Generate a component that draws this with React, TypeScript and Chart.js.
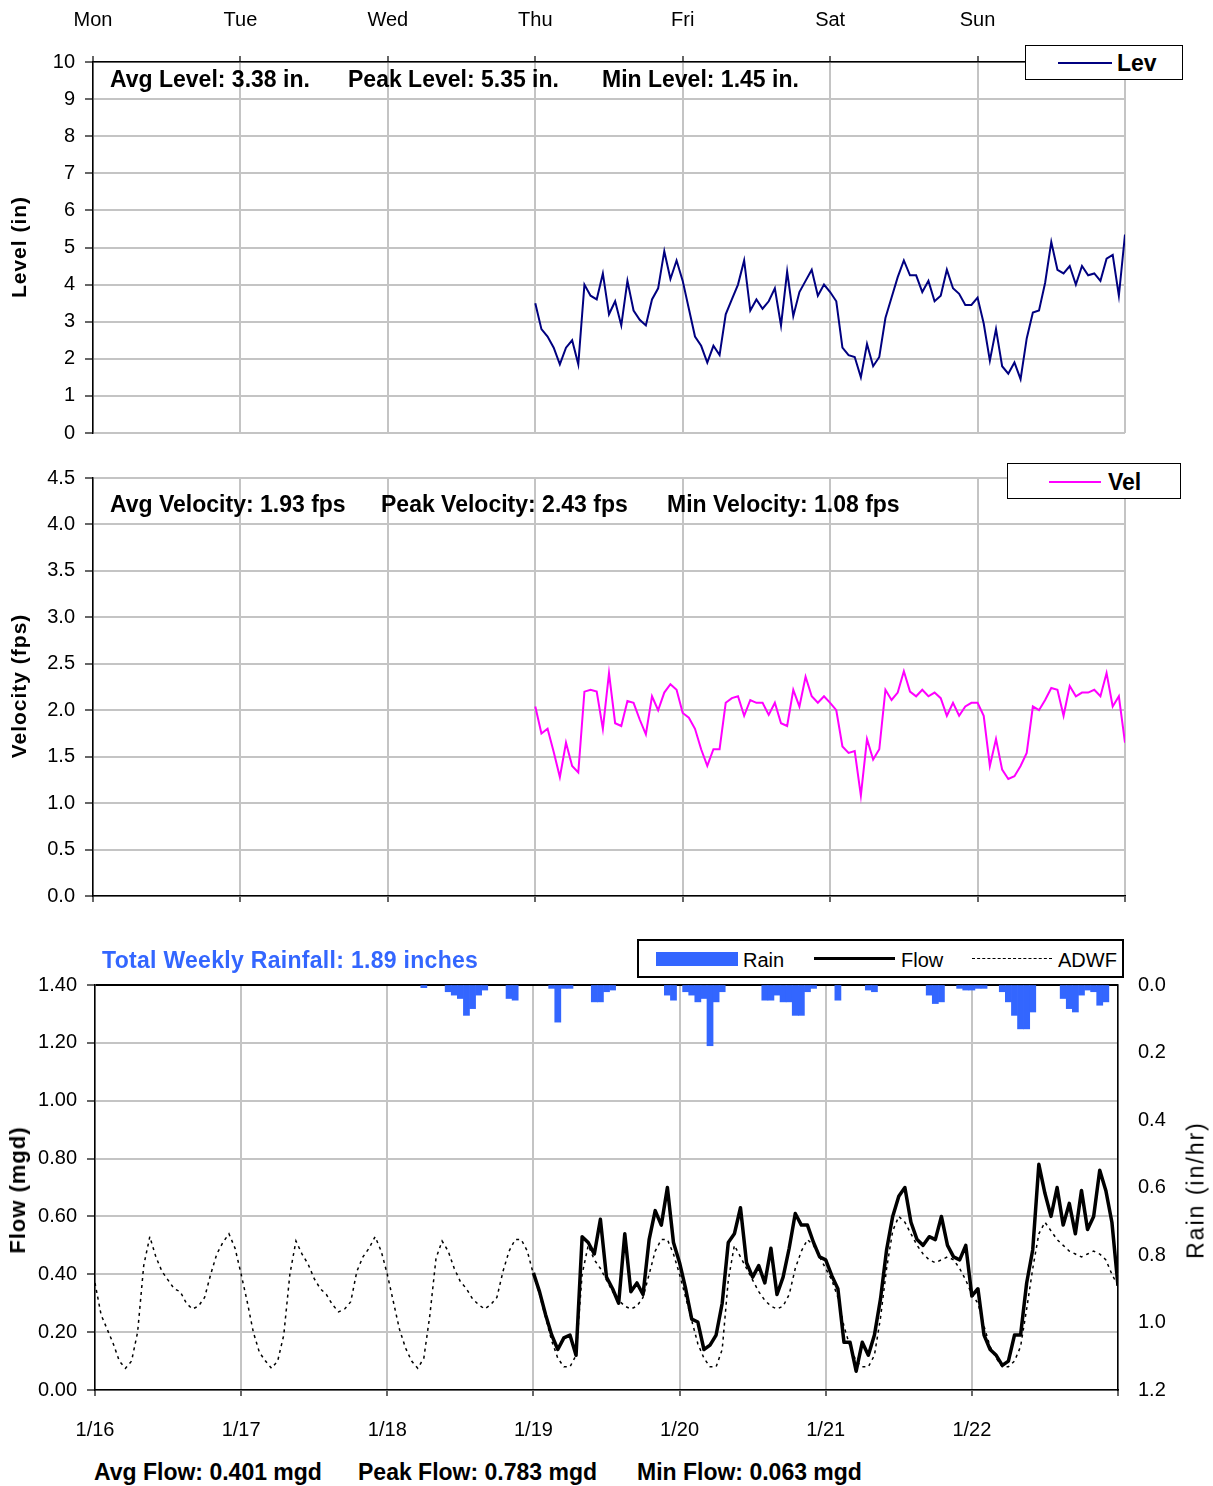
import React, { useEffect, useRef } from 'react';
import { Chart, registerables } from 'chart.js';
Chart.register(...registerables);

// ---------------- DATA ----------------
const DAY_NAMES = ['Mon', 'Tue', 'Wed', 'Thu', 'Fri', 'Sat', 'Sun'];
const DATE_LABELS = ['1/16', '1/17', '1/18', '1/19', '1/20', '1/21', '1/22'];
const WEEK_HOURS = 168;
const METER_START_HOUR = 72; // Thu 1/19 00:00

// Level (in), hourly
const levelThu = [3.5, 2.8, 2.6, 2.3, 1.85, 2.3, 2.5, 1.85, 4.0, 3.7, 3.6, 4.3, 3.2, 3.55, 2.9, 4.1, 3.3, 3.05, 2.9, 3.6, 3.9, 4.9, 4.15, 4.65];
const levelFri = [4.1, 3.35, 2.6, 2.35, 1.9, 2.35, 2.1, 3.2, 3.6, 4.0, 4.65, 3.3, 3.6, 3.35, 3.55, 3.9, 2.9, 4.35, 3.15, 3.8, 4.1, 4.4, 3.7, 4.0];
const levelSat = [3.8, 3.55, 2.3, 2.1, 2.05, 1.5, 2.4, 1.8, 2.05, 3.1, 3.65, 4.2, 4.65, 4.25, 4.25, 3.8, 4.1, 3.55, 3.7, 4.4, 3.9, 3.75, 3.45, 3.45];
const levelSun = [3.65, 2.95, 1.95, 2.8, 1.8, 1.6, 1.9, 1.45, 2.55, 3.25, 3.3, 4.05, 5.15, 4.4, 4.3, 4.5, 4.0, 4.5, 4.25, 4.3, 4.1, 4.7, 4.8, 3.7];
const levelEnd = 5.35;

// Velocity (fps), hourly
const velThu = [2.04, 1.75, 1.8, 1.55, 1.28, 1.65, 1.4, 1.33, 2.2, 2.22, 2.2, 1.8, 2.4, 1.86, 1.83, 2.1, 2.08, 1.9, 1.74, 2.15, 2.0, 2.19, 2.28, 2.22];
const velFri = [1.97, 1.92, 1.8, 1.58, 1.4, 1.58, 1.58, 2.08, 2.13, 2.15, 1.94, 2.11, 2.08, 2.08, 1.95, 2.08, 1.86, 1.83, 2.22, 2.04, 2.36, 2.15, 2.08, 2.15];
const velSat = [2.08, 2.0, 1.61, 1.54, 1.56, 1.08, 1.69, 1.47, 1.58, 2.22, 2.11, 2.19, 2.42, 2.2, 2.15, 2.22, 2.15, 2.19, 2.13, 1.94, 2.08, 1.94, 2.04, 2.08];
const velSun = [2.08, 1.94, 1.4, 1.69, 1.36, 1.26, 1.29, 1.4, 1.54, 2.04, 2.0, 2.11, 2.24, 2.22, 1.94, 2.26, 2.15, 2.19, 2.19, 2.22, 2.15, 2.4, 2.04, 2.15];
const velEnd = 1.65;

// Flow (mgd), hourly
const flow0119 = [0.405, 0.34, 0.26, 0.19, 0.14, 0.18, 0.19, 0.12, 0.53, 0.51, 0.47, 0.59, 0.39, 0.35, 0.30, 0.54, 0.34, 0.37, 0.33, 0.52, 0.62, 0.57, 0.70, 0.51];
const flow0120 = [0.44, 0.35, 0.245, 0.235, 0.14, 0.155, 0.19, 0.30, 0.51, 0.54, 0.63, 0.44, 0.39, 0.43, 0.37, 0.49, 0.33, 0.39, 0.49, 0.61, 0.57, 0.57, 0.51, 0.46];
const flow0121 = [0.45, 0.395, 0.35, 0.165, 0.165, 0.065, 0.165, 0.12, 0.19, 0.315, 0.485, 0.60, 0.67, 0.70, 0.58, 0.52, 0.50, 0.53, 0.52, 0.60, 0.50, 0.46, 0.45, 0.50];
const flow0122 = [0.325, 0.35, 0.19, 0.14, 0.12, 0.085, 0.10, 0.19, 0.19, 0.37, 0.485, 0.78, 0.68, 0.60, 0.70, 0.57, 0.645, 0.54, 0.69, 0.555, 0.60, 0.76, 0.69, 0.58];
const flowEnd = 0.36;

// ADWF (mgd), hourly for the whole week
const adwf0116 = [0.37, 0.26, 0.21, 0.16, 0.10, 0.075, 0.10, 0.20, 0.43, 0.53, 0.46, 0.41, 0.38, 0.35, 0.34, 0.30, 0.28, 0.29, 0.32, 0.40, 0.47, 0.51, 0.54, 0.49];
const adwf0117 = [0.40, 0.305, 0.20, 0.13, 0.10, 0.075, 0.10, 0.19, 0.40, 0.515, 0.47, 0.435, 0.385, 0.35, 0.33, 0.295, 0.27, 0.28, 0.305, 0.41, 0.46, 0.49, 0.53, 0.48];
const adwf0118 = [0.40, 0.305, 0.21, 0.145, 0.10, 0.075, 0.11, 0.26, 0.455, 0.515, 0.48, 0.42, 0.375, 0.35, 0.315, 0.295, 0.28, 0.295, 0.32, 0.41, 0.48, 0.52, 0.52, 0.48];
const adwf0119 = [0.40, 0.33, 0.25, 0.17, 0.11, 0.08, 0.08, 0.12, 0.40, 0.50, 0.45, 0.42, 0.38, 0.34, 0.31, 0.29, 0.28, 0.29, 0.32, 0.40, 0.48, 0.52, 0.52, 0.47];
const adwf0120 = [0.40, 0.32, 0.24, 0.16, 0.11, 0.08, 0.08, 0.14, 0.38, 0.50, 0.46, 0.42, 0.38, 0.34, 0.31, 0.29, 0.28, 0.29, 0.33, 0.42, 0.48, 0.52, 0.50, 0.46];
const adwf0121 = [0.42, 0.38, 0.32, 0.22, 0.15, 0.10, 0.08, 0.08, 0.12, 0.25, 0.42, 0.55, 0.60, 0.58, 0.54, 0.50, 0.47, 0.45, 0.44, 0.45, 0.46, 0.45, 0.42, 0.38];
const adwf0122 = [0.33, 0.30, 0.22, 0.15, 0.11, 0.08, 0.08, 0.10, 0.15, 0.28, 0.42, 0.54, 0.58, 0.55, 0.52, 0.50, 0.48, 0.47, 0.46, 0.47, 0.48, 0.47, 0.45, 0.40];
const adwfEnd = 0.36;

// Rain (in/hr): hour of week and intensity
const rainHours = [54, 58, 59, 60, 61, 62, 63, 64, 68, 69, 75, 76, 77, 78, 82, 83, 84, 85, 94, 95, 97, 98, 99, 100, 101, 102, 103, 110, 111, 112, 113, 114, 115, 116, 117, 118, 122, 127, 128, 137, 138, 139, 142, 143, 144, 145, 146, 149, 150, 151, 152, 153, 154, 159, 160, 161, 162, 163, 164, 165, 166];
const rainValues = [0.008, 0.02, 0.03, 0.04, 0.09, 0.07, 0.03, 0.015, 0.04, 0.045, 0.01, 0.11, 0.01, 0.01, 0.05, 0.05, 0.02, 0.015, 0.03, 0.045, 0.02, 0.03, 0.05, 0.04, 0.18, 0.05, 0.02, 0.045, 0.045, 0.03, 0.05, 0.05, 0.09, 0.09, 0.02, 0.01, 0.045, 0.015, 0.02, 0.03, 0.055, 0.05, 0.01, 0.015, 0.015, 0.01, 0.01, 0.02, 0.05, 0.09, 0.13, 0.13, 0.08, 0.04, 0.07, 0.08, 0.03, 0.015, 0.02, 0.06, 0.05];

const levelStats = ['Avg Level: 3.38 in.', 'Peak Level: 5.35 in.', 'Min Level: 1.45 in.'];
const velStats = ['Avg Velocity: 1.93 fps', 'Peak Velocity: 2.43 fps', 'Min Velocity: 1.08 fps'];
const flowStats = ['Avg Flow: 0.401 mgd', 'Peak Flow: 0.783 mgd', 'Min Flow: 0.063 mgd'];
const rainTotalText = 'Total Weekly Rainfall: 1.89 inches';

// ---------------- HELPERS ----------------
const FONT = '"Liberation Sans", Arial, Helvetica, sans-serif';
const GRID = '#c4c4c4';
const RAIN_BLUE = '#3366ff';

function toPoints(startHour: number, days: number[][], endValue: number) {
  const pts: { x: number; y: number }[] = [];
  let h = startHour;
  days.forEach((d) => d.forEach((v) => { pts.push({ x: h, y: v }); h += 1; }));
  pts.push({ x: h, y: endValue });
  return pts;
}

const tickFont = { family: FONT, size: 20 };

function xDayAxis(position: string, labels: string[] | null, height: number, padding: number) {
  return {
    type: 'linear',
    position,
    min: 0,
    max: WEEK_HOURS,
    offset: false,
    ticks: {
      stepSize: 24,
      autoSkip: false,
      maxRotation: 0,
      color: '#000',
      font: tickFont,
      padding,
      callback: (v: number) => (labels ? labels[Math.round(v / 24)] ?? '' : ''),
    },
    grid: { color: GRID, lineWidth: 2, tickColor: '#000', tickLength: 6, tickWidth: 1.2, offset: false },
    border: { color: '#000', width: 1.5 },
    afterFit: (s: any) => { s.height = height; },
  };
}

function yAxis(max: number, step: number, digits: number, width: number, topBlack: boolean) {
  return {
    type: 'linear',
    position: 'left',
    min: 0,
    max,
    ticks: {
      stepSize: step,
      color: '#000',
      font: tickFont,
      padding: 10,
      callback: (v: number) => (digits === 0 ? String(Math.round(v)) : Number(v).toFixed(digits)),
    },
    grid: {
      color: (ctx: any) => (topBlack && ctx.tick && Math.abs(ctx.tick.value - max) < 1e-6 ? '#000' : GRID),
      lineWidth: 2,
      tickColor: '#000',
      tickLength: 8,
      tickWidth: 1.2,
    },
    border: { color: '#000', width: 1.5 },
    afterFit: (s: any) => { s.width = width; },
  };
}

const basePlugins = { legend: { display: false }, tooltip: { enabled: false } };

function useChart(ref: React.RefObject<HTMLCanvasElement>, makeConfig: () => any) {
  useEffect(() => {
    if (!ref.current) return;
    const chart = new Chart(ref.current, makeConfig());
    return () => chart.destroy();
  }, []);
}

const txt = (left: number, cy: number, text: string, extra: React.CSSProperties = {}) => (
  <div
    style={{
      position: 'absolute', left, top: cy, transform: 'translateY(-50%)', whiteSpace: 'nowrap',
      fontFamily: FONT, fontSize: 23, fontWeight: 'bold', lineHeight: 1, color: '#000', ...extra,
    }}
  >
    {text}
  </div>
);

const vtitle = (cx: number, cy: number, text: string, extra: React.CSSProperties = {}) => (
  <div
    style={{
      position: 'absolute', left: cx, top: cy, transform: 'translate(-50%, -50%) rotate(-90deg)',
      whiteSpace: 'nowrap', fontFamily: FONT, fontSize: 21, fontWeight: 'bold', letterSpacing: 1,
      lineHeight: 1, color: '#000', ...extra,
    }}
  >
    {text}
  </div>
);

// ---------------- APP ----------------
export default function App() {
  const levelRef = useRef<HTMLCanvasElement>(null);
  const velRef = useRef<HTMLCanvasElement>(null);
  const flowRef = useRef<HTMLCanvasElement>(null);

  useChart(levelRef, () => ({
    type: 'line',
    data: {
      datasets: [{
        data: toPoints(METER_START_HOUR, [levelThu, levelFri, levelSat, levelSun], levelEnd),
        borderColor: '#000080', borderWidth: 2, pointRadius: 0, tension: 0,
      }],
    },
    options: {
      animation: false, responsive: false, maintainAspectRatio: false,
      layout: { padding: { left: 0, right: 88, top: 0, bottom: 0 } },
      plugins: basePlugins,
      scales: {
        x: xDayAxis('top', DAY_NAMES, 62, 24),
        y: yAxis(10, 1, 0, 93, false),
      },
    },
  }));

  useChart(velRef, () => ({
    type: 'line',
    data: {
      datasets: [{
        data: toPoints(METER_START_HOUR, [velThu, velFri, velSat, velSun], velEnd),
        borderColor: '#ff00ff', borderWidth: 2, pointRadius: 0, tension: 0,
      }],
    },
    options: {
      animation: false, responsive: false, maintainAspectRatio: false,
      layout: { padding: { left: 0, right: 88, top: 33, bottom: 0 } },
      plugins: basePlugins,
      scales: {
        x: xDayAxis('bottom', null, 20, 2),
        y: yAxis(4.5, 0.5, 1, 93, false),
      },
    },
  }));

  useChart(flowRef, () => ({
    type: 'line',
    data: {
      datasets: [
        {
          type: 'line', label: 'Flow', yAxisID: 'y',
          data: toPoints(METER_START_HOUR, [flow0119, flow0120, flow0121, flow0122], flowEnd),
          borderColor: '#000', borderWidth: 3.5, pointRadius: 0, tension: 0, borderJoinStyle: 'round',
        },
        {
          type: 'line', label: 'ADWF', yAxisID: 'y',
          data: toPoints(0, [adwf0116, adwf0117, adwf0118, adwf0119, adwf0120, adwf0121, adwf0122], adwfEnd),
          borderColor: '#000', borderWidth: 1.5, borderDash: [3, 4], pointRadius: 0, tension: 0,
        },
        {
          type: 'bar', label: 'Rain', yAxisID: 'y2',
          data: rainHours.map((h, i) => ({ x: h, y: rainValues[i] })),
          backgroundColor: RAIN_BLUE, borderWidth: 0, barPercentage: 1, categoryPercentage: 1,
        },
      ],
    },
    options: {
      animation: false, responsive: false, maintainAspectRatio: false,
      layout: { padding: { left: 0, right: 0, top: 55, bottom: 0 } },
      plugins: basePlugins,
      scales: {
        x: xDayAxis('bottom', DATE_LABELS, 60, 22),
        y: yAxis(1.4, 0.2, 2, 95, true),
        y2: {
          type: 'linear', position: 'right', reverse: true, min: 0, max: 1.2,
          ticks: {
            stepSize: 0.2, color: '#000', font: tickFont, padding: 20,
            callback: (v: number) => Number(v).toFixed(1),
          },
          grid: { drawOnChartArea: false, drawTicks: false },
          border: { color: '#000', width: 1.5 },
          afterFit: (s: any) => { s.width = 95; },
        },
      },
    },
  }));

  const legendBox: React.CSSProperties = {
    position: 'absolute', background: '#fff', border: '1.5px solid #000', boxSizing: 'border-box',
  };

  return (
    <div style={{ position: 'absolute', left: 0, top: 0, width: 1213, height: 1486, background: '#fff', overflow: 'hidden' }}>
      <canvas ref={levelRef} width={1213} height={455} style={{ position: 'absolute', left: 0, top: 0 }} />
      <canvas ref={velRef} width={1213} height={473} style={{ position: 'absolute', left: 0, top: 445 }} />
      <canvas ref={flowRef} width={1213} height={520} style={{ position: 'absolute', left: 0, top: 930 }} />

      {/* Level annotations */}
      {txt(110, 79, levelStats[0])}
      {txt(348, 79, levelStats[1])}
      {txt(602, 79, levelStats[2])}
      <div style={{ ...legendBox, left: 1025, top: 45, width: 158, height: 35 }}>
        <div style={{ position: 'absolute', left: 32, top: 16, width: 54, height: 2, background: '#000080' }} />
        {txt(91, 17, 'Lev', { fontSize: 23 })}
      </div>
      {vtitle(18, 247, 'Level (in)')}

      {/* Velocity annotations */}
      {txt(110, 504, velStats[0])}
      {txt(381, 504, velStats[1])}
      {txt(667, 504, velStats[2])}
      <div style={{ ...legendBox, left: 1007, top: 463, width: 174, height: 36 }}>
        <div style={{ position: 'absolute', left: 41, top: 17, width: 52, height: 2, background: '#ff00ff' }} />
        {txt(100, 18, 'Vel', { fontSize: 23 })}
      </div>
      {vtitle(18, 686, 'Velocity (fps)')}

      {/* Flow annotations */}
      {txt(102, 960, rainTotalText, { color: RAIN_BLUE, fontSize: 23, letterSpacing: 0.3 })}
      <div style={{ ...legendBox, left: 637, top: 939, width: 487, height: 39, borderWidth: 2 }}>
        <div style={{ position: 'absolute', left: 17, top: 11, width: 82, height: 14, background: RAIN_BLUE }} />
        {txt(104, 19, 'Rain', { fontWeight: 'normal', fontSize: 20 })}
        <div style={{ position: 'absolute', left: 175, top: 16, width: 81, height: 3, background: '#000' }} />
        {txt(262, 19, 'Flow', { fontWeight: 'normal', fontSize: 20 })}
        <div style={{ position: 'absolute', left: 333, top: 17, width: 80, height: 0, borderTop: '1.5px dashed #000' }} />
        {txt(419, 19, 'ADWF', { fontWeight: 'normal', fontSize: 20 })}
      </div>
      {vtitle(18, 1190, 'Flow (mgd)', { fontSize: 22 })}
      {vtitle(1196, 1190, 'Rain (in/hr)', { fontWeight: 'normal', fontSize: 23, letterSpacing: 2 })}
      {txt(94, 1472, flowStats[0])}
      {txt(358, 1472, flowStats[1])}
      {txt(637, 1472, flowStats[2])}
    </div>
  );
}
